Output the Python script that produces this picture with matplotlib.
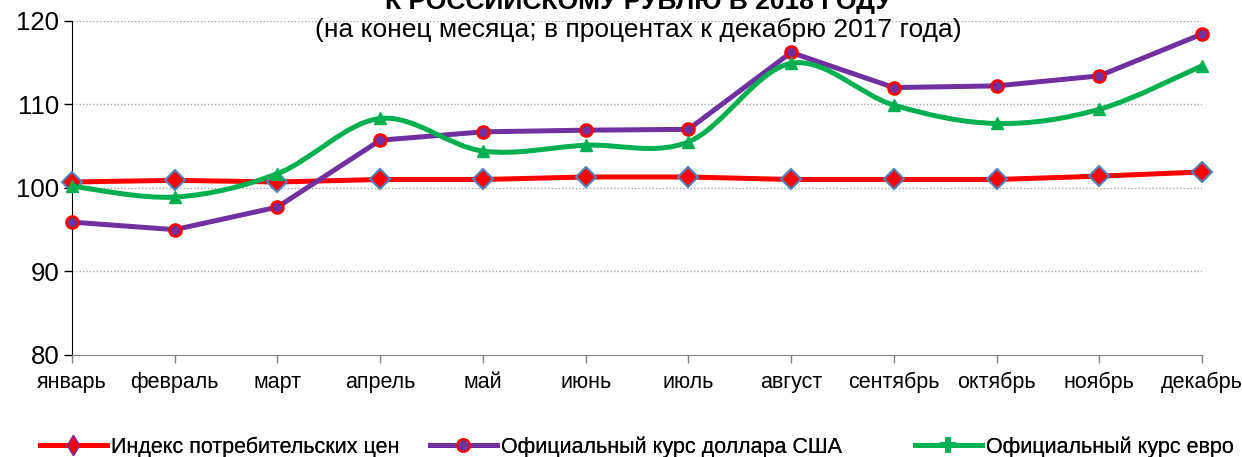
import matplotlib
matplotlib.use("Agg")
import matplotlib.pyplot as plt
from matplotlib.path import Path
from matplotlib.patches import PathPatch
from matplotlib.lines import Line2D
import numpy as np

plt.rcParams['font.family'] = ['Liberation Sans', 'DejaVu Sans']

months = ['январь', 'февраль', 'март', 'апрель', 'май', 'июнь',
          'июль', 'август', 'сентябрь', 'октябрь', 'ноябрь', 'декабрь']
cpi = [100.7, 100.9, 100.7, 101.0, 101.0, 101.3, 101.3, 101.0, 101.0, 101.0, 101.4, 101.9]
usd = [95.9, 95.0, 97.7, 105.7, 106.7, 106.9, 107.0, 116.2, 112.0, 112.2, 113.4, 118.4]
eur = [100.2, 98.9, 101.7, 108.3, 104.4, 105.1, 105.5, 114.9, 109.9, 107.7, 109.4, 114.6]

names = ['Индекс потребительских цен', 'Официальный курс доллара США', 'Официальный курс евро']

RED = '#FF0000'
PURPLE = '#7030A0'
GREEN = '#00B050'
BLUE_EDGE = '#4F81BD'


def smooth_path(x, y):
    # Excel-style smoothed line: cubic bezier through the points
    pts = np.column_stack([x, y]).astype(float)
    n = len(pts)
    verts = [pts[0]]
    codes = [Path.MOVETO]
    for i in range(n - 1):
        p0 = pts[max(i - 1, 0)]
        p1 = pts[i]
        p2 = pts[i + 1]
        p3 = pts[min(i + 2, n - 1)]
        c1 = p1 + (p2 - p0) / 6.0
        c2 = p2 - (p3 - p1) / 6.0
        verts += [c1, c2, p2]
        codes += [Path.CURVE4] * 3
    return Path(verts, codes)


fig = plt.figure(figsize=(12.42, 4.57), dpi=100)
ax = fig.add_axes([72 / 1242, 1 - 355 / 457, (1202 - 72) / 1242, (355 - 20.7) / 457])

x = np.arange(len(months))

ax.plot(x, cpi, color=RED, lw=3.6, marker='D', ms=10, mfc=RED, mec=BLUE_EDGE, mew=1.5,
        solid_capstyle='round', zorder=3, clip_on=False)
ax.plot(x, usd, color=PURPLE, lw=3.6, marker='o', ms=8.5, mfc=PURPLE, mec=RED, mew=2,
        solid_capstyle='round', zorder=4, clip_on=False)
ax.add_patch(PathPatch(smooth_path(x, eur), facecolor='none', edgecolor=GREEN, lw=3.6,
                       zorder=5, clip_on=False, capstyle='round'))
ax.plot(x, eur, ls='none', marker='^', ms=9, mfc=GREEN, mec=GREEN, zorder=5, clip_on=False)

ax.set_xlim(0, 11)
ax.set_ylim(80, 120)
ax.set_yticks([80, 90, 100, 110, 120])
ax.set_xticks(x)
ax.set_xticklabels(months)
ax.tick_params(axis='y', labelsize=18.5, length=6, width=1, direction='out', pad=3)
ax.tick_params(axis='x', labelsize=15.5, length=6, width=1, direction='out', pad=6,
               colors='#808080', labelcolor='black')
for v in [90, 100, 110, 120]:
    ax.axhline(v, color='#A6A6A6', lw=1, ls=(0, (1, 1.5)), zorder=1)
ax.spines['top'].set_visible(False)
ax.spines['right'].set_visible(False)
ax.spines['bottom'].set_color('#808080')
ax.spines['left'].set_color('black')

cx = 638 / 1242
fig.text(cx, 1 - 9 / 457, 'К РОССИЙСКОМУ РУБЛЮ В 2018 ГОДУ', ha='center', va='baseline',
         fontsize=19, fontweight='bold')
fig.text(cx, 1 - 37 / 457, '(на конец месяца; в процентах к декабрю 2017 года)',
         ha='center', va='baseline', fontsize=19)

handles = [
    Line2D([], [], color=RED, lw=3.6, marker='d', ms=10, mfc=RED, mec=PURPLE, mew=1),
    Line2D([], [], color=PURPLE, lw=3.6, marker='o', ms=9, mfc=PURPLE, mec=RED, mew=1.5),
    Line2D([], [], color=GREEN, lw=3.6, marker='+', ms=11, mew=4, mec=GREEN),
]
# one legend per entry so each sits where the reference has it
legend_left = [40, 430, 915]
for h, name, left in zip(handles, names, legend_left):
    leg = fig.legend([h], [name], loc='center left',
                     bbox_to_anchor=(left / 1242, 1 - 447 / 457),
                     frameon=False, fontsize=15.5, handlelength=3.1,
                     handletextpad=0.2, borderpad=0, borderaxespad=0)
    fig.add_artist(leg)

fig.savefig('out.png', dpi=100)
